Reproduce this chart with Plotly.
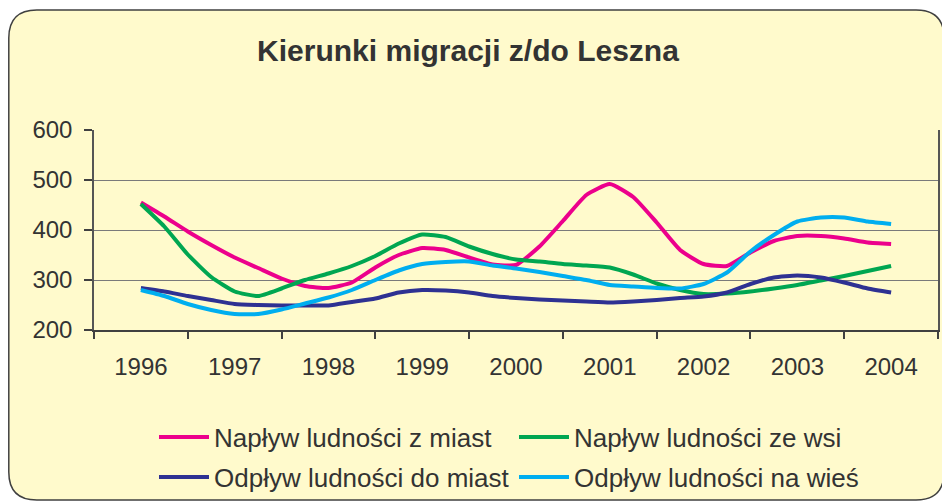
import plotly.graph_objects as go

# quarterly sample positions 1996 .. 2004
x_quarters = [1996 + k * 0.25 for k in range(33)]
years = [1996, 1997, 1998, 1999, 2000, 2001, 2002, 2003, 2004]
year_labels = [str(y) for y in years]

naplyw_miasta = [455, 427, 397, 370, 345, 324, 303, 288, 284, 295, 325, 350, 364, 360, 345, 331,
                 330, 367, 418, 470, 492, 466, 415, 360, 332, 328, 355, 378, 388, 388, 383, 375, 372]
naplyw_wies = [452, 407, 351, 306, 277, 268, 283, 300, 313, 328, 348, 373, 391, 386, 367, 352,
               341, 337, 332, 329, 325, 311, 293, 280, 272, 273, 277, 283, 290, 299, 308, 318, 328]
odplyw_miasta = [284, 277, 268, 260, 252, 250, 249, 249, 249, 256, 263, 275, 280, 279, 275, 268,
                 264, 261, 259, 257, 255, 257, 260, 264, 267, 275, 292, 305, 309, 305, 295, 283, 275]
odplyw_wies = [280, 268, 252, 240, 232, 232, 241, 253, 265, 280, 300, 319, 332, 336, 337, 329,
               323, 316, 308, 300, 290, 287, 284, 283, 292, 315, 357, 390, 417, 425, 425, 417, 412]

names = ["Napływ ludności z miast", "Napływ ludności ze wsi",
         "Odpływ ludności do miast", "Odpływ ludności na wieś"]
colors = ["#EC008C", "#00A651", "#2E3192", "#00AEEF"]
series = [naplyw_miasta, naplyw_wies, odplyw_miasta, odplyw_wies]
legends = ["legend", "legend", "legend2", "legend2"]

# figure is drawn with the page's 8px body margin in mind
W, H = 942, 494
ML, MR, MT, MB = 86, 12, 122, 172
PW, PH = W - ML - MR, H - MT - MB
BG = "#FFFACC"
TXT = "#333333"


def px(xp):
    return (xp - ML) / PW


def py(yp):
    return (H - MB - yp) / PH


fig = go.Figure()
for name, col, vals, lg in zip(names, colors, series, legends):
    fig.add_trace(go.Scatter(x=x_quarters, y=vals, mode="lines", name=name,
                             line=dict(color=col, width=4, shape="spline", smoothing=0.5),
                             legend=lg))

# rounded chart border
x0, y0, x1, y1, r = 0.8, 2, 936, 492, 28
path = (f"M{px(x0 + r)},{py(y0)} L{px(x1 - r)},{py(y0)} Q{px(x1)},{py(y0)} {px(x1)},{py(y0 + r)} "
        f"L{px(x1)},{py(y1 - r)} Q{px(x1)},{py(y1)} {px(x1 - r)},{py(y1)} "
        f"L{px(x0 + r)},{py(y1)} Q{px(x0)},{py(y1)} {px(x0)},{py(y1 - r)} "
        f"L{px(x0)},{py(y0 + r)} Q{px(x0)},{py(y0)} {px(x0 + r)},{py(y0)} Z")
fig.add_shape(type="path", path=path, xref="paper", yref="paper", layer="below",
              fillcolor=BG, line=dict(color="#404040", width=1.5))

legend_common = dict(orientation="h", xref="container", yref="container",
                     x=146 / W, xanchor="left", yanchor="middle",
                     bgcolor="rgba(0,0,0,0)", font=dict(size=26, color=TXT), itemwidth=50,
                     entrywidth=295, entrywidthmode="pixels", traceorder="normal")

fig.update_layout(
    width=W, height=H,
    margin=dict(l=ML, r=MR, t=MT, b=MB),
    paper_bgcolor="white",
    plot_bgcolor=BG,
    font=dict(family="Liberation Sans, Arial, sans-serif", color=TXT, size=24),
    title=dict(text="<b>Kierunki migracji z/do Leszna</b>", font=dict(size=30, color=TXT),
               x=460 / W, xref="container", xanchor="center",
               y=1 - 42 / H, yref="container", yanchor="middle"),
    xaxis=dict(range=[1995.5, 2004.5], tickmode="array", tickvals=years, ticktext=year_labels,
               ticks="", showgrid=False, zeroline=False, showline=True, linecolor="#404040",
               linewidth=1.5, ticklabelstandoff=14, tickfont=dict(size=24, color=TXT),
               automargin=False,
               minor=dict(tickmode="array", tickvals=[y - 0.5 for y in years] + [2004.5],
                          ticks="outside", ticklen=7, tickcolor="#404040", tickwidth=1.5,
                          showgrid=False)),
    yaxis=dict(range=[200, 600], tickmode="array", tickvals=[200, 300, 400, 500, 600],
               ticks="outside", ticklen=8, tickcolor="#404040", tickwidth=1.5,
               showgrid=True, gridcolor="#7A7A7A", gridwidth=1, zeroline=False,
               showline=True, linecolor="#555555", linewidth=1.5, mirror=True,
               automargin=False,
               ticklabelstandoff=7, tickfont=dict(size=24, color=TXT)),
    legend=dict(y=1 - 429 / H, **legend_common),
    legend2=dict(y=1 - 469 / H, **legend_common),
)

fig.write_html("out.html")
